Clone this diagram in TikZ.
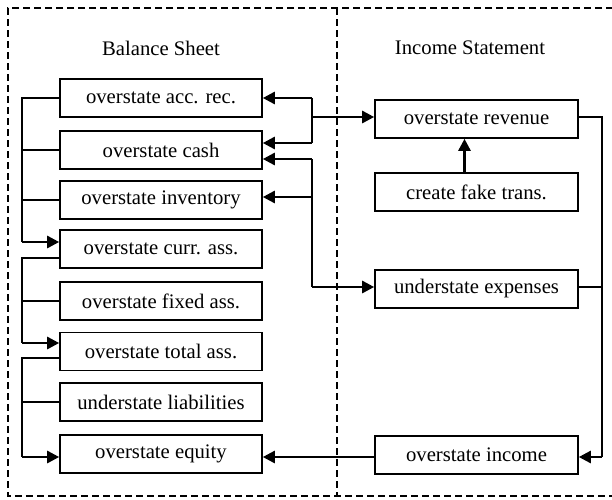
\documentclass[tikz,border=0pt]{standalone}
\usepackage{fontspec}
\setmainfont{Liberation Serif}
\usetikzlibrary{arrows.meta,calc}
\begin{document}
\begin{tikzpicture}[x=1pt,y=-1pt,
  box/.style={draw,line width=1.6pt,minimum width=202pt,minimum height=38pt,inner sep=0pt,font=\fontsize{20.7}{24}\selectfont},
  title/.style={font=\fontsize{20.7}{24}\selectfont,inner sep=0pt},
  thin/.style={line width=1.5pt},
  arr/.style={line width=2.6pt,-{Triangle[length=12pt,width=12pt]}},
  thk/.style={line width=2.6pt},
  frame/.style={line width=2pt,dash pattern=on 7pt off 4pt}]
\useasboundingbox (0,0) rectangle (612,499);
% frame
\draw[frame] (613,8) -- (8,8) -- (8,496) -- (613,496);
\draw[frame] (337,8) -- (337,496);
% titles
\node[title] (bs) at (161,48) {Balance Sheet};
\node[title] (is) at (470,48) {Income Statement};
% left boxes
\node[box] (acc) at (161,98) {overstate acc. rec.};
\node[box] (cash) at (161,150) {overstate cash};
\node[box] (inv) at (161,200) {overstate inventory};
\node[box] (cur) at (161,249) {overstate curr. ass.};
\node[box] (fix) at (161,301) {overstate fixed ass.};
\node[box] (tot) at (161,351.5) {overstate total ass.};
\node[box] (liab) at (161,402) {understate liabilities};
\node[box] (eq) at (161,454) {overstate equity};
% right boxes
\node[box,minimum width=203pt] (rev) at (476.5,119) {overstate revenue};
\node[box,minimum width=203pt] (fake) at (476.5,192) {create fake trans.};
\node[box,minimum width=203pt] (exp) at (476.5,289) {understate expenses};
\node[box,minimum width=203pt] (inc) at (476.5,455) {overstate income};
% bus coordinates
\coordinate (L1) at (22,242);
\coordinate (L2) at (22,343);
\coordinate (L3) at (22,457);
% left network
\draw[thin] (acc.west) -- (acc.west -| L1) -- (L1);
\draw[thin] (cash.west) -- (cash.west -| L1);
\draw[thin] (inv.west) -- (inv.west -| L1);
\draw[arr] (L1) -- (L1 -| cur.west);
\draw[thin] ($(cur.west)+(0,9)$) -- ($(cur.west -| L1)+(0,9)$) -- (L2);
\draw[thin] (fix.west) -- (fix.west -| L1);
\draw[arr] (L2) -- (L2 -| tot.west);
\draw[thin] ($(tot.west)+(0,6.5)$) -- ($(tot.west -| L1)+(0,6.5)$) -- (L3);
\draw[thin] (liab.west) -- (liab.west -| L1);
\draw[arr] (L3) -- (L3 -| eq.west);
% middle network
\coordinate (M1) at (312,98);
\coordinate (M2) at (312,143);
\coordinate (M3) at (312,159);
\coordinate (M4) at (312,287);
\draw[thk] (M1) -- (M2);
\draw[arr] (M1) -- (acc.east);
\draw[arr] (M2) -- (M2 -| cash.east);
\draw[arr] (312,117) -- (rev.west |- 312,117);
\draw[thk] (M3) -- (M4);
\draw[arr] (M3) -- (M3 -| cash.east);
\draw[arr] (312,197) -- (inv.east |- 312,197);
\draw[arr] (M4) -- (M4 -| exp.west);
% right network
\coordinate (R1) at (602,457);
\draw[thin] ($(rev.east)+(0,-2)$) -- ($(rev.east -| R1)+(0,-2)$) -- (R1);
\draw[thin] ($(exp.east)+(0,-2)$) -- ($(exp.east -| R1)+(0,-2)$);
\draw[arr] (R1) -- (R1 -| inc.east);
\draw[arr] ($(fake.north)+(-12,0)$) -- ($(rev.south)+(-12,0)$);
\draw[arr] ($(inc.west)+(0,2)$) -- ($(eq.east)+(0,3)$);
\end{tikzpicture}
\end{document}
